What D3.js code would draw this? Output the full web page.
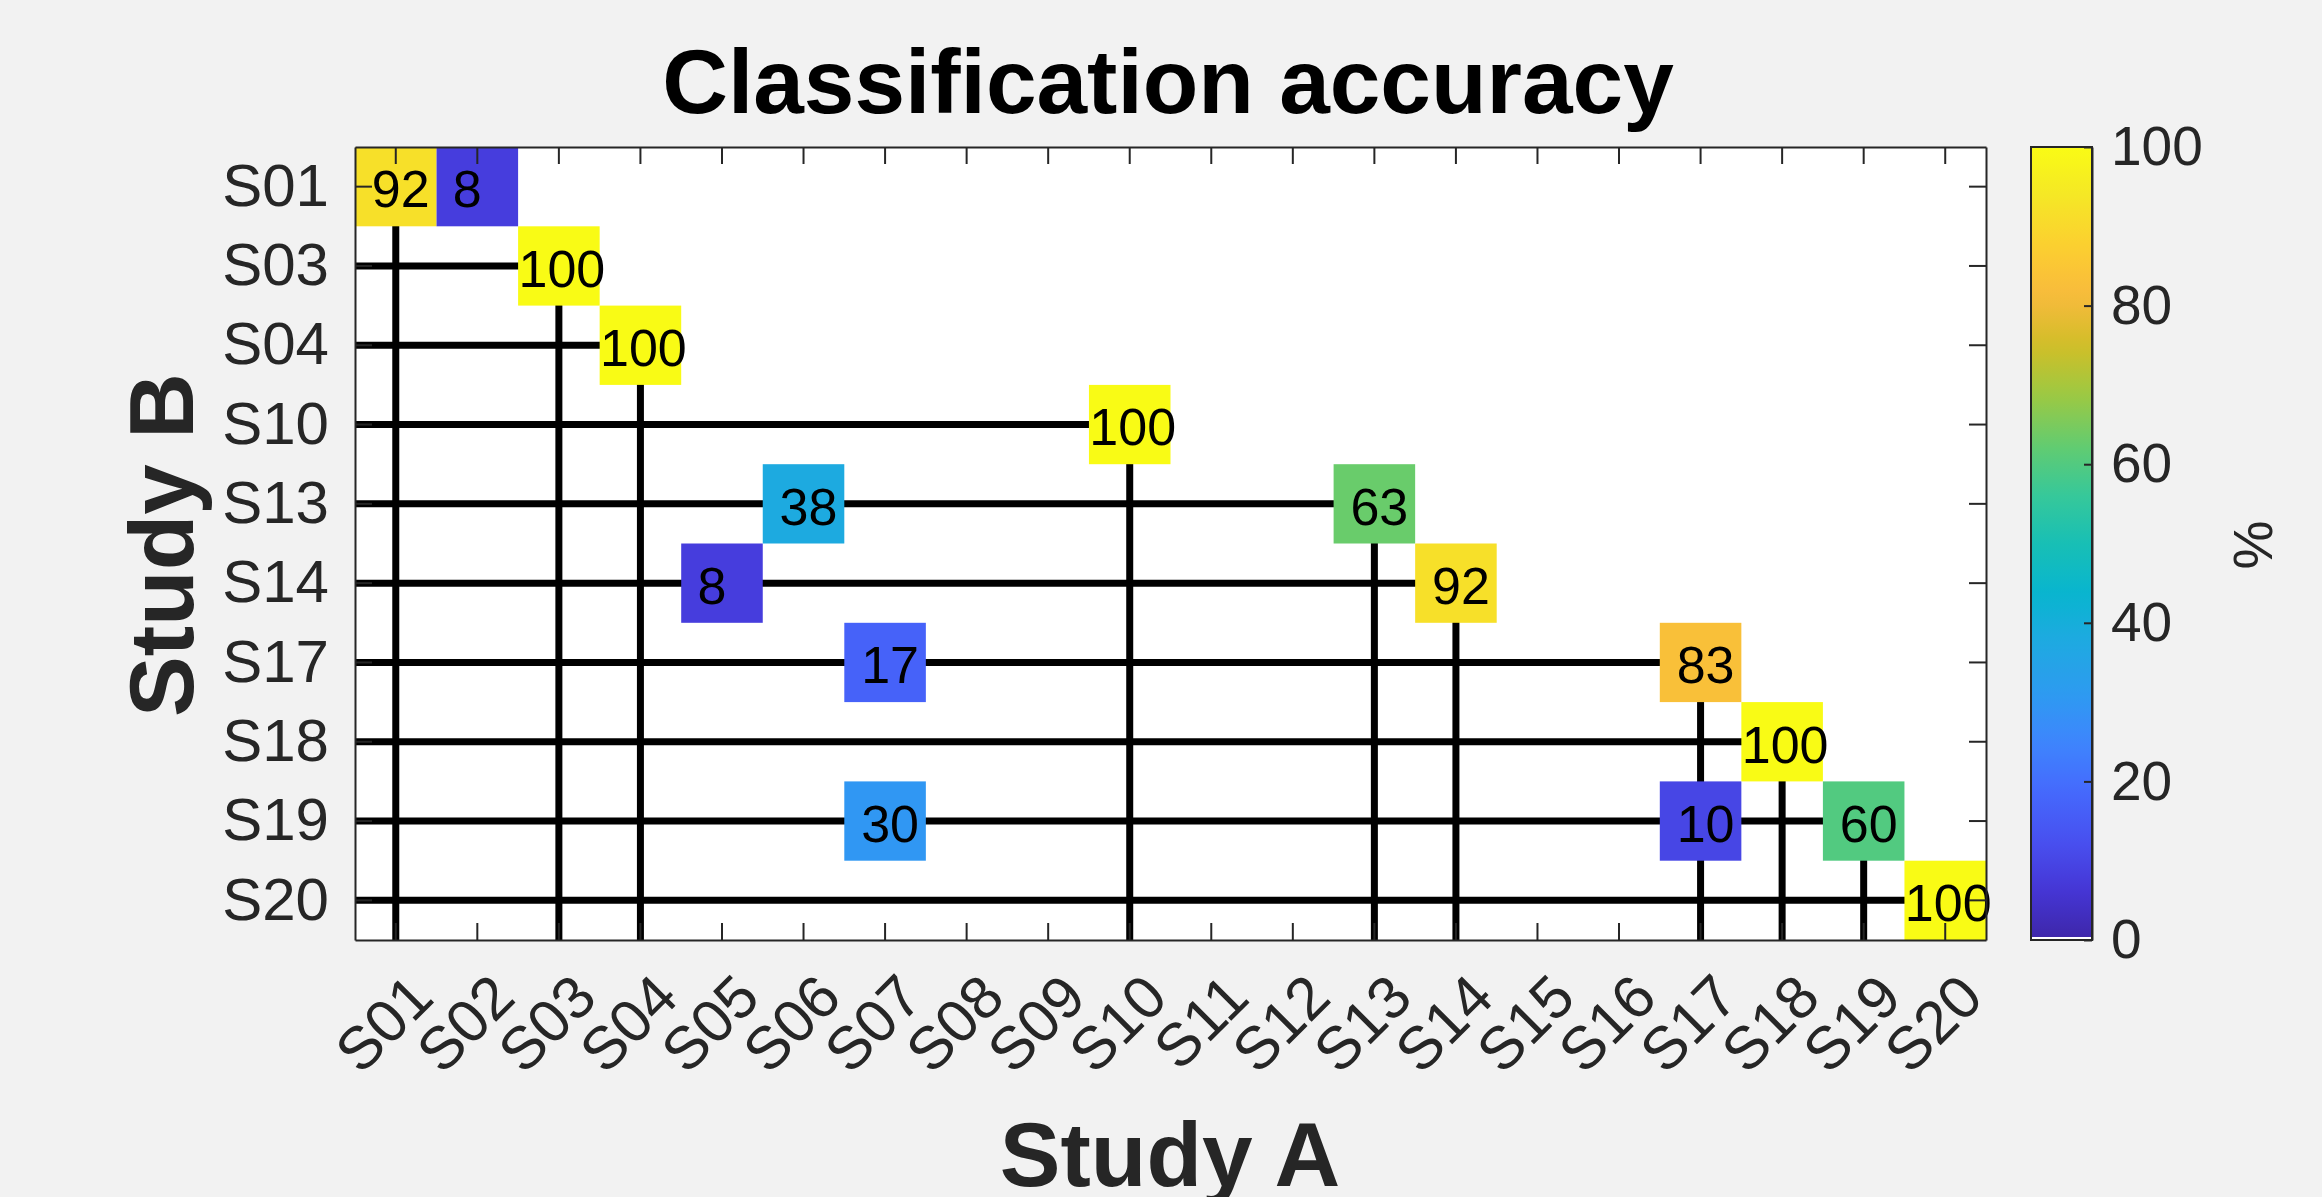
<!DOCTYPE html>
<html>
<head>
<meta charset="utf-8">
<script src="https://cdn.jsdelivr.net/npm/d3@7"></script>
<style>
  body { margin: 0; background: #f2f2f2; }
  text { font-family: "Liberation Sans", Arial, sans-serif; }
</style>
</head>
<body>
<script>
// tick labels
var colLabels = ['S01','S02','S03','S04','S05','S06','S07','S08','S09','S10',
                 'S11','S12','S13','S14','S15','S16','S17','S18','S19','S20'];
var rowLabels = ['S01','S03','S04','S10','S13','S14','S17','S18','S19','S20'];

// filled cells (row = Study B, col = Study A, value in %)
var cellRows   = ['S01','S01','S03','S04','S10','S13','S13','S14','S14','S17','S17','S18','S19','S19','S19','S20'];
var cellCols   = ['S01','S02','S03','S04','S10','S06','S13','S05','S14','S07','S17','S18','S07','S17','S19','S20'];
var cellValues = [92, 8, 100, 100, 100, 38, 63, 8, 92, 17, 83, 100, 30, 10, 60, 100];

var colorTicks = [0, 20, 40, 60, 80, 100];

// parula colormap stops
var parula = ['#3e26a8','#4536d5','#4850f0','#4569fd','#3e85fd','#2d9bf0','#1fa9e1','#08b5cf',
              '#18bfb5','#37c899','#64cc6f','#9dc942','#d1be27','#f8ba3d','#fccf30','#f5e726','#f9fb15'];

function run_chart() {
  var width = 2322,
      height = 1197,
      pl = 355, pr = 1986,
      pt = 147, pb = 940,
      tickLen = 17,
      lineW = 7;

  var svg = d3.select("body").append("svg")
      .attr("width", width)
      .attr("height", height);

  svg.append("rect").attr("width", width).attr("height", height).attr("fill", "#f2f2f2");

  var x = d3.scaleBand().domain(colLabels).range([pl, pr]);
  var y = d3.scaleBand().domain(rowLabels).range([pt, pb]);
  var color = d3.scaleSequential(d3.piecewise(d3.interpolateRgb, parula)).domain([0, 100]);

  var bw = x.bandwidth(), bh = y.bandwidth();

  svg.append("rect")
      .attr("x", pl).attr("y", pt)
      .attr("width", pr - pl).attr("height", pb - pt)
      .attr("fill", "white");

  // tree lines: each study row goes from the left edge to its own column, then down
  var lines = svg.append("g").attr("stroke", "black").attr("stroke-width", lineW);
  lines.selectAll(".h")
      .data(rowLabels)
    .enter().append("line").attr("class", "h")
      .attr("x1", pl)
      .attr("x2", function(d) { return x(d) + bw / 2; })
      .attr("y1", function(d) { return y(d) + bh / 2; })
      .attr("y2", function(d) { return y(d) + bh / 2; });
  lines.selectAll(".v")
      .data(rowLabels)
    .enter().append("line").attr("class", "v")
      .attr("x1", function(d) { return x(d) + bw / 2; })
      .attr("x2", function(d) { return x(d) + bw / 2; })
      .attr("y1", function(d) { return y(d) + bh / 2; })
      .attr("y2", pb);

  var cells = d3.range(cellValues.length);

  svg.append("g").selectAll("rect")
      .data(cells)
    .enter().append("rect")
      .attr("x", function(i) { return x(cellCols[i]); })
      .attr("y", function(i) { return y(cellRows[i]); })
      .attr("width", bw)
      .attr("height", bh)
      .attr("fill", function(i) { return color(cellValues[i]); });

  // matlab nudges the short labels a bit
  var nudge = { 1: -10, 2: 5, 3: 3 };
  svg.append("g").selectAll("text")
      .data(cells)
    .enter().append("text")
      .attr("x", function(i) { return x(cellCols[i]) + bw / 2 + nudge[String(cellValues[i]).length]; })
      .attr("y", function(i) { return y(cellRows[i]) + bh / 2; })
      .attr("dy", "0.4em")
      .attr("text-anchor", "middle")
      .attr("font-size", 52)
      .attr("fill", "black")
      .text(function(i) { return cellValues[i]; });

  // axes, on top of the cells
  function styleAxis(g, fs) {
    g.selectAll("path").attr("stroke", "#262626").attr("stroke-width", 2);
    g.selectAll("line").attr("stroke", "#262626").attr("stroke-width", 2);
    g.selectAll("text").attr("fill", "#262626").attr("font-size", fs)
      .attr("font-family", '"Liberation Sans", Arial, sans-serif');
  }

  var gx = svg.append("g")
      .attr("transform", "translate(0," + pb + ")")
      .call(d3.axisBottom(x).tickSizeInner(-tickLen).tickSizeOuter(0));
  styleAxis(gx, 60);
  gx.selectAll("text")
      .attr("text-anchor", "end")
      .attr("dy", null)
      .attr("y", 0.716 * 60)
      .attr("transform", "translate(10,30) rotate(-45)");

  var gxt = svg.append("g")
      .attr("transform", "translate(0," + pt + ")")
      .call(d3.axisTop(x).tickSizeInner(-tickLen).tickSizeOuter(0).tickFormat(""));
  styleAxis(gxt, 60);

  var gy = svg.append("g")
      .attr("transform", "translate(" + pl + ",0)")
      .call(d3.axisLeft(y).tickSizeInner(-tickLen).tickSizeOuter(0).tickPadding(26));
  styleAxis(gy, 60);

  var gyr = svg.append("g")
      .attr("transform", "translate(" + pr + ",0)")
      .call(d3.axisRight(y).tickSizeInner(-tickLen).tickSizeOuter(0).tickFormat(""));
  styleAxis(gyr, 60);

  // colorbar
  var cbL = 2031, cbR = 2092;
  var c = d3.scaleLinear().domain([0, 100]).range([pb, pt]);

  var grad = svg.append("defs").append("linearGradient")
      .attr("id", "cbgrad")
      .attr("x1", 0).attr("y1", 1).attr("x2", 0).attr("y2", 0);
  grad.selectAll("stop")
      .data(d3.range(0, 101, 2))
    .enter().append("stop")
      .attr("offset", function(d) { return d + "%"; })
      .attr("stop-color", function(d) { return color(d); });

  svg.append("rect")
      .attr("x", cbL).attr("y", pt)
      .attr("width", cbR - cbL).attr("height", pb - pt)
      .attr("fill", "url(#cbgrad)");
  svg.append("rect")
      .attr("x", cbL).attr("y", pb - 3)
      .attr("width", cbR - cbL).attr("height", 3)
      .attr("fill", "white");
  svg.append("rect")
      .attr("x", cbL).attr("y", pt)
      .attr("width", cbR - cbL).attr("height", pb - pt)
      .attr("fill", "none").attr("stroke", "#262626").attr("stroke-width", 2);

  var gc = svg.append("g")
      .attr("transform", "translate(" + cbR + ",0)")
      .call(d3.axisRight(c).tickValues(colorTicks).tickSizeInner(-8).tickSizeOuter(0).tickPadding(19));
  styleAxis(gc, 55);

  // titles
  svg.append("text")
      .attr("x", 1168).attr("y", 113)
      .attr("text-anchor", "middle")
      .attr("font-size", 91).attr("font-weight", "bold")
      .attr("fill", "black")
      .text("Classification accuracy");

  svg.append("text")
      .attr("transform", "translate(193,545) rotate(-90)")
      .attr("text-anchor", "middle")
      .attr("font-size", 91).attr("font-weight", "bold")
      .attr("fill", "#262626")
      .text("Study B");

  svg.append("text")
      .attr("x", 1170).attr("y", 1186)
      .attr("text-anchor", "middle")
      .attr("font-size", 91).attr("font-weight", "bold")
      .attr("fill", "#262626")
      .text("Study A");

  svg.append("text")
      .attr("transform", "translate(2272,545) rotate(-90)")
      .attr("text-anchor", "middle")
      .attr("font-size", 55)
      .attr("fill", "#262626")
      .text("%");
}

run_chart();
</script>
</body>
</html>
